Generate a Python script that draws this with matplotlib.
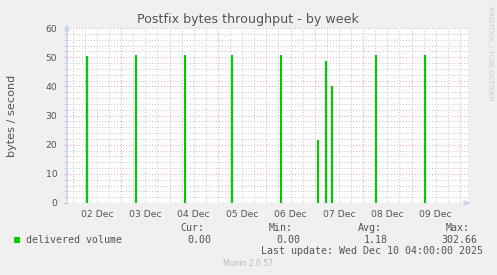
import numpy as np
import matplotlib
matplotlib.use('Agg')
import matplotlib.pyplot as plt
from matplotlib.ticker import MultipleLocator

# data
spike_times = ['2025-12-02T06:30', '2025-12-03T07:00', '2025-12-04T07:00',
               '2025-12-05T06:30', '2025-12-06T07:00', '2025-12-07T01:00',
               '2025-12-07T05:00', '2025-12-07T08:00', '2025-12-08T06:00',
               '2025-12-09T06:00']
spike_values = [50.5, 50.8, 50.8, 50.8, 50.8, 21.7, 48.7, 40.1, 50.8, 50.8]

day_labels = ['02 Dec', '03 Dec', '04 Dec', '05 Dec', '06 Dec', '07 Dec', '08 Dec', '09 Dec']
stat_names = ['Cur:', 'Min:', 'Avg:', 'Max:']
stat_values = ['0.00', '0.00', '1.18', '302.66']

t_start = np.datetime64('2025-12-01T21:00')
t_end = np.datetime64('2025-12-10T04:00')

# 30 minute samples, zero except where the spikes are
t = np.arange(t_start, t_end + np.timedelta64(30, 'm'), np.timedelta64(30, 'm'))
v = np.zeros(len(t))
for st, sv in zip(spike_times, spike_values):
    v[t == np.datetime64(st)] = sv

W, H = 497, 275
fig = plt.figure(figsize=(W / 100, H / 100), dpi=100, facecolor='#F0F0F0')
ax = fig.add_axes([67 / W, 1 - 203 / H, 401 / W, 175 / H])
ax.set_facecolor('white')

txt = '#555555'
grid_gray = '#C4C4C4'
grid_red = '#E5A3A3'

# vertical grid: red at midnight, gray every 6 hours
for i in range(0, 8 * 4 + 1):
    tv = np.datetime64('2025-12-02T00:00') + np.timedelta64(6 * i, 'h')
    c = grid_red if i % 4 == 0 else grid_gray
    ax.axvline(tv, color=c, ls=(0, (1, 2)), lw=0.7, zorder=1)

ax.yaxis.set_major_locator(MultipleLocator(10))
ax.yaxis.set_minor_locator(MultipleLocator(2))
ax.grid(which='minor', axis='y', color=grid_gray, ls=(0, (1, 2)), lw=0.7, zorder=1)
ax.grid(which='major', axis='y', color=grid_red, ls=(0, (1, 2)), lw=0.7, zorder=1)
ax.set_axisbelow(True)

ax.step(t, v, where='post', color='#00CC00', lw=0.8, zorder=3)

ax.set_xlim(t_start + np.timedelta64(10, 'm'), t_end)
ax.set_ylim(0, 60)

# labels at noon of each day
noons = [np.datetime64('2025-12-02T12:00') + np.timedelta64(24 * i, 'h') for i in range(len(day_labels))]
ax.set_xticks(noons)
ax.set_xticklabels(day_labels)
ax.tick_params(axis='x', length=0, pad=5, labelsize=6.7, colors=txt)
ax.tick_params(axis='y', which='major', length=2, pad=5, labelsize=6.7, colors=txt)
ax.tick_params(axis='y', which='minor', length=2, color=grid_gray)
ax.tick_params(axis='y', which='major', color=grid_red)

for s in ax.spines.values():
    s.set_visible(False)

# axis arrows
arrow_c = '#C8D2F4'
ax.annotate('', xy=(0, 1.04), xytext=(0, 0), xycoords='axes fraction',
            arrowprops=dict(arrowstyle='-|>,head_width=0.15,head_length=0.4', color=arrow_c, lw=0.8),
            annotation_clip=False)
ax.annotate('', xy=(1.015, 0), xytext=(0.99, 0), xycoords='axes fraction',
            arrowprops=dict(arrowstyle='-|>,head_width=0.15,head_length=0.4', color=arrow_c, lw=0.8),
            annotation_clip=False)
ax.axvline(ax.get_xlim()[0], color=arrow_c, lw=0.8, zorder=2)

ax.set_ylabel('bytes / second', fontsize=8.1, color=txt)
ax.yaxis.set_label_coords(-0.125, 0.5)

fig.text(248 / W, 1 - 20 / H, 'Postfix bytes throughput - by week', ha='center', va='center',
         fontsize=9.1, color=txt)
fig.text(490 / W, 1 - 6 / H, 'RRDTOOL / TOBI OETIKER', rotation=270, ha='center', va='top',
         fontsize=5.3, color='#CCCCCC')

# legend
mono = 'DejaVu Sans Mono'
fig.patches.append(plt.Rectangle((14 / W, 1 - 243 / H), 6 / W, 6 / H, transform=fig.transFigure,
                                 facecolor='#00CC00', edgecolor='none'))
fig.text(26 / W, 1 - 240 / H, 'delivered volume', family=mono, fontsize=7.2, color=txt,
         ha='left', va='center')
name_right = [204, 293, 382, 470]
val_right = [211, 300, 388, 477]
for n, nr in zip(stat_names, name_right):
    fig.text(nr / W, 1 - 228 / H, n, family=mono, fontsize=7.2, color=txt, ha='right', va='center')
for sv, vr in zip(stat_values, val_right):
    fig.text(vr / W, 1 - 240 / H, sv, family=mono, fontsize=7.2, color=txt, ha='right', va='center')
fig.text(483 / W, 1 - 251 / H, 'Last update: Wed Dec 10 04:00:00 2025', family=mono, fontsize=7.2,
         color=txt, ha='right', va='center')
fig.text(248 / W, 1 - 264 / H, 'Munin 2.0.57', fontsize=5.5, color='#BBBBBB', ha='center', va='center')

fig.savefig('out.png', dpi=100, facecolor=fig.get_facecolor())
